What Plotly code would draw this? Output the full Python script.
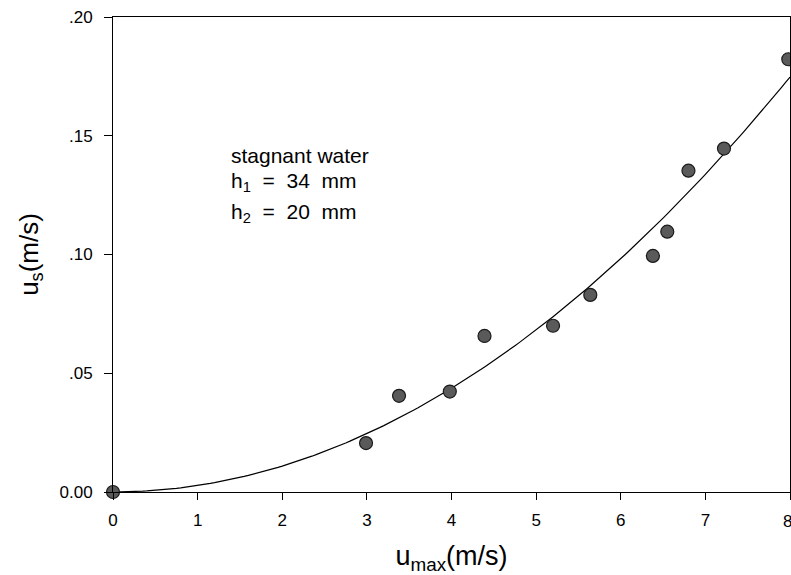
import numpy as np
import plotly.graph_objects as go

# measured data
u_max = [0.0, 2.99, 3.38, 3.98, 4.39, 5.20, 5.64, 6.38, 6.55, 6.80, 7.22, 7.98]
u_s = [0.0, 0.0206, 0.0405, 0.0423, 0.0657, 0.0700, 0.0830, 0.0994, 0.1096, 0.1353, 0.1446, 0.1822]

# fitted curve u_s = a * u_max^2 (coefficient)
fit_coef = 0.00273
fit_x = np.linspace(0, 8, 161)
fit_y = fit_coef * fit_x ** 2

x_tickvals = [0, 1, 2, 3, 4, 5, 6, 7]
x_ticktext = ["0", "1", "2", "3", "4", "5", "6", "7"]
x_last_tick = 8
y_tickvals = [0.0, 0.05, 0.10, 0.15, 0.20]
y_ticktext = ["0.00", ".05", ".10", ".15", ".20"]

FONT = "Liberation Sans, Arial, sans-serif"

fig = go.Figure()
fig.add_trace(go.Scatter(x=fit_x, y=fit_y, mode="lines",
                         line=dict(color="black", width=1.2), hoverinfo="skip"))
fig.add_trace(go.Scatter(x=u_max, y=u_s, mode="markers", cliponaxis=False,
                         marker=dict(size=13, color="#5a5a5a",
                                     line=dict(color="#1a1a1a", width=1.2))))

fig.update_layout(
    width=791, height=575,
    margin=dict(l=113, r=1, t=17, b=83),
    paper_bgcolor="white", plot_bgcolor="white",
    showlegend=False,
    font=dict(family=FONT, color="black", size=16),
    xaxis=dict(range=[0, 8], tickvals=x_tickvals + [x_last_tick], ticktext=x_ticktext + [""],
               showgrid=False, zeroline=False, showline=True, linecolor="black",
               linewidth=1, mirror=True, ticks="outside", ticklen=7, tickcolor="black",
               tickfont=dict(size=17, family=FONT), ticklabelstandoff=6,
               title=dict(text="u<sub>max</sub>(m/s)", font=dict(size=27, family=FONT), standoff=17),
               automargin=False),
    yaxis=dict(range=[0, 0.20], tickvals=y_tickvals, ticktext=y_ticktext,
               showgrid=False, zeroline=False, showline=True, linecolor="black",
               linewidth=1, mirror=True, ticks="outside", ticklen=8, tickcolor="black",
               tickfont=dict(size=17, family=FONT), ticklabelstandoff=8,
               title=dict(text="u<sub>s</sub>(m/s)", font=dict(size=26, family=FONT), standoff=13),
               automargin=False),
    annotations=[
        dict(x=x_last_tick, y=0, xref="x", yref="y", xanchor="right", yanchor="top",
             yshift=-18, xshift=4, text=str(x_last_tick), showarrow=False,
             font=dict(size=17, family=FONT)),
        dict(x=1.37, y=0.1415, xref="x", yref="y", xanchor="left", yanchor="middle",
             text="stagnant water", showarrow=False, font=dict(size=21, family=FONT)),
        dict(x=1.37, y=0.1305, xref="x", yref="y", xanchor="left", yanchor="middle",
             text="h<sub>1</sub>  =  34  mm", showarrow=False, font=dict(size=21, family=FONT)),
        dict(x=1.37, y=0.1175, xref="x", yref="y", xanchor="left", yanchor="middle",
             text="h<sub>2</sub>  =  20  mm", showarrow=False, font=dict(size=21, family=FONT)),
    ],
)

fig.write_html("out.html")
